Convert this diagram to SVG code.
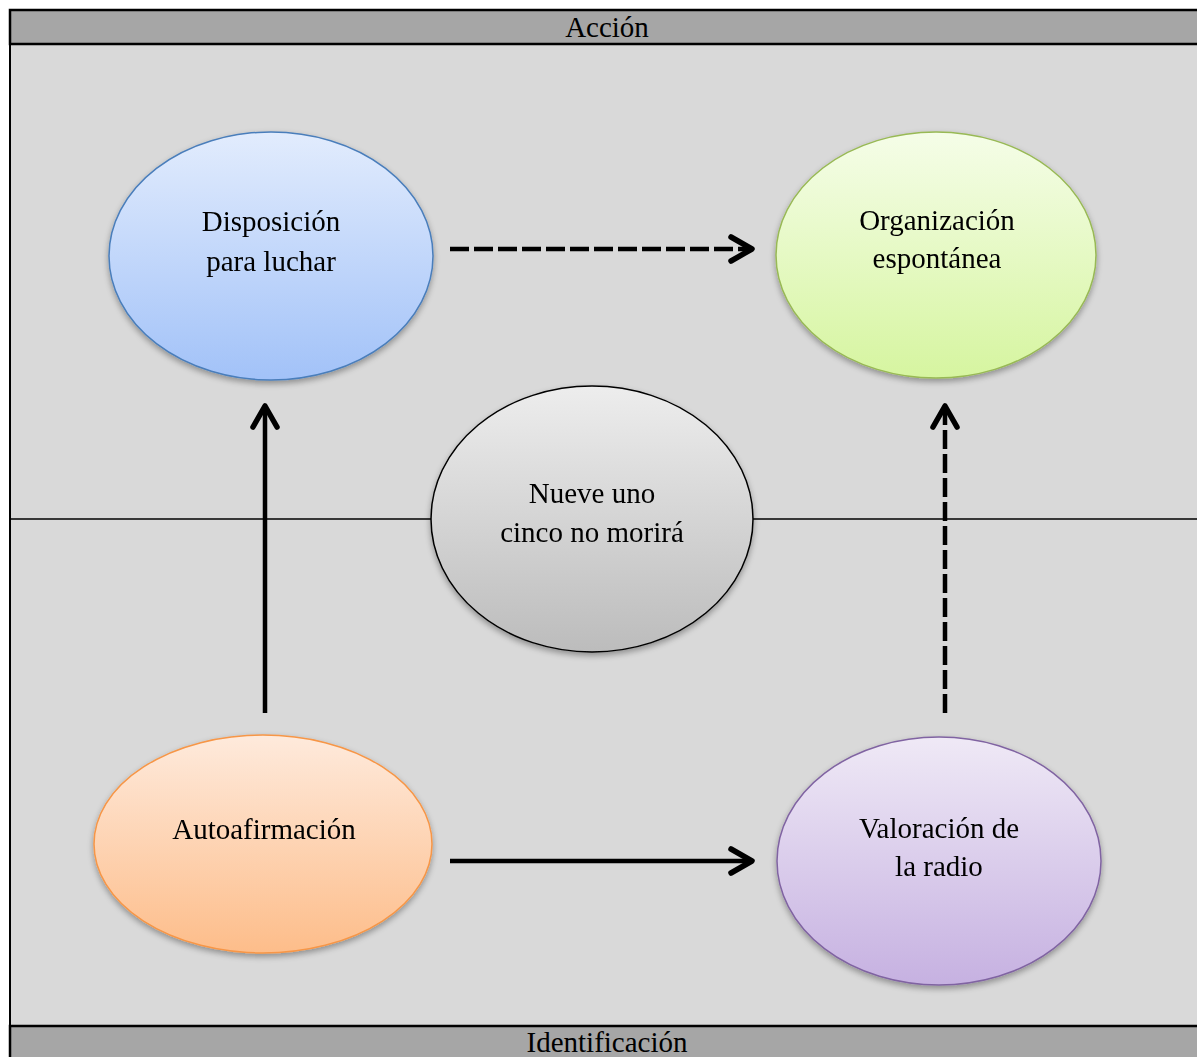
<svg xmlns="http://www.w3.org/2000/svg" width="1197" height="1057" viewBox="0 0 1197 1057">
  <style>
    .lbl { font-family: "Liberation Serif", "Times New Roman", serif; font-size: 29px; fill: #000; text-anchor: middle; }
    .bar { fill: #a6a6a6; stroke: #000; stroke-width: 2.5; }
    .conn { fill: none; stroke: #000; stroke-width: 4.5; }
    .dash { stroke-dasharray: 19 5; }
    .head { fill: none; stroke: #000; stroke-width: 5.5; stroke-linecap: round; stroke-linejoin: round; }
  </style>
  <defs>
    <linearGradient id="gBlue" x1="0" y1="0" x2="0" y2="1">
      <stop offset="0" stop-color="#e2ecfd"/>
      <stop offset="1" stop-color="#a2c2f8"/>
    </linearGradient>
    <linearGradient id="gGreen" x1="0" y1="0" x2="0" y2="1">
      <stop offset="0" stop-color="#f5fde8"/>
      <stop offset="1" stop-color="#d6f5a0"/>
    </linearGradient>
    <linearGradient id="gGrey" x1="0" y1="0" x2="0" y2="1">
      <stop offset="0" stop-color="#ededed"/>
      <stop offset="1" stop-color="#bcbcbc"/>
    </linearGradient>
    <linearGradient id="gOrange" x1="0" y1="0" x2="0" y2="1">
      <stop offset="0" stop-color="#feeadc"/>
      <stop offset="1" stop-color="#fdbd8a"/>
    </linearGradient>
    <linearGradient id="gPurple" x1="0" y1="0" x2="0" y2="1">
      <stop offset="0" stop-color="#efe9f6"/>
      <stop offset="1" stop-color="#c6b1e1"/>
    </linearGradient>
    <filter id="shadow" x="-10%" y="-10%" width="120%" height="125%">
      <feGaussianBlur in="SourceAlpha" stdDeviation="3"/>
      <feOffset dy="3" result="b"/>
      <feComponentTransfer><feFuncA type="linear" slope="0.35"/></feComponentTransfer>
      <feMerge><feMergeNode/><feMergeNode in="SourceGraphic"/></feMerge>
    </filter>
  </defs>

  <!-- frame and band backgrounds -->
  <rect x="10" y="10" width="1200" height="1060" fill="#d9d9d9" stroke="#000" stroke-width="2"/>
  <rect class="bar" x="10" y="10" width="1200" height="34"/>
  <rect class="bar" x="10" y="1026" width="1200" height="50"/>
  <line x1="10" y1="519" x2="1197" y2="519" stroke="#000" stroke-width="1.3"/>
  <text class="lbl" x="607" y="37">Acción</text>
  <text class="lbl" x="607" y="1052">Identificación</text>

  <!-- connectors -->
  <g id="connectors">
    <line class="conn dash" x1="450" y1="249" x2="749" y2="249"/>
    <polyline class="head" points="731,237 752,249 731,261"/>
    <line class="conn" x1="265" y1="713" x2="265" y2="409"/>
    <polyline class="head" points="253,427 265,406 277,427"/>
    <line class="conn dash" x1="945" y1="713" x2="945" y2="409"/>
    <polyline class="head" points="933,427 945,406 957,427"/>
    <line class="conn" x1="450" y1="861" x2="749" y2="861"/>
    <polyline class="head" points="731,849 752,861 731,873"/>
  </g>

  <g id="disposicion" filter="url(#shadow)">
    <ellipse cx="271" cy="256" rx="162" ry="124" fill="url(#gBlue)" stroke="#4a7ebb" stroke-width="1.5"/>
    <text class="lbl" x="271" y="231">Disposición</text>
    <text class="lbl" x="271" y="271">para luchar</text>
  </g>

  <g id="organizacion" filter="url(#shadow)">
    <ellipse cx="936" cy="255" rx="160" ry="123" fill="url(#gGreen)" stroke="#98b954" stroke-width="1.5"/>
    <text class="lbl" x="937" y="230">Organización</text>
    <text class="lbl" x="937" y="268">espontánea</text>
  </g>

  <g id="nueve" filter="url(#shadow)">
    <ellipse cx="592" cy="519" rx="161" ry="133" fill="url(#gGrey)" stroke="#000" stroke-width="1.5"/>
    <text class="lbl" x="592" y="503">Nueve uno</text>
    <text class="lbl" x="592" y="542">cinco no morirá</text>
  </g>

  <g id="autoafirmacion" filter="url(#shadow)">
    <ellipse cx="263" cy="844" rx="169" ry="109" fill="url(#gOrange)" stroke="#f79646" stroke-width="1.5"/>
    <text class="lbl" x="264" y="839">Autoafirmación</text>
  </g>

  <g id="valoracion" filter="url(#shadow)">
    <ellipse cx="939" cy="861" rx="162" ry="124" fill="url(#gPurple)" stroke="#8064a2" stroke-width="1.5"/>
    <text class="lbl" x="939" y="838">Valoración de</text>
    <text class="lbl" x="939" y="876">la radio</text>
  </g>
</svg>
